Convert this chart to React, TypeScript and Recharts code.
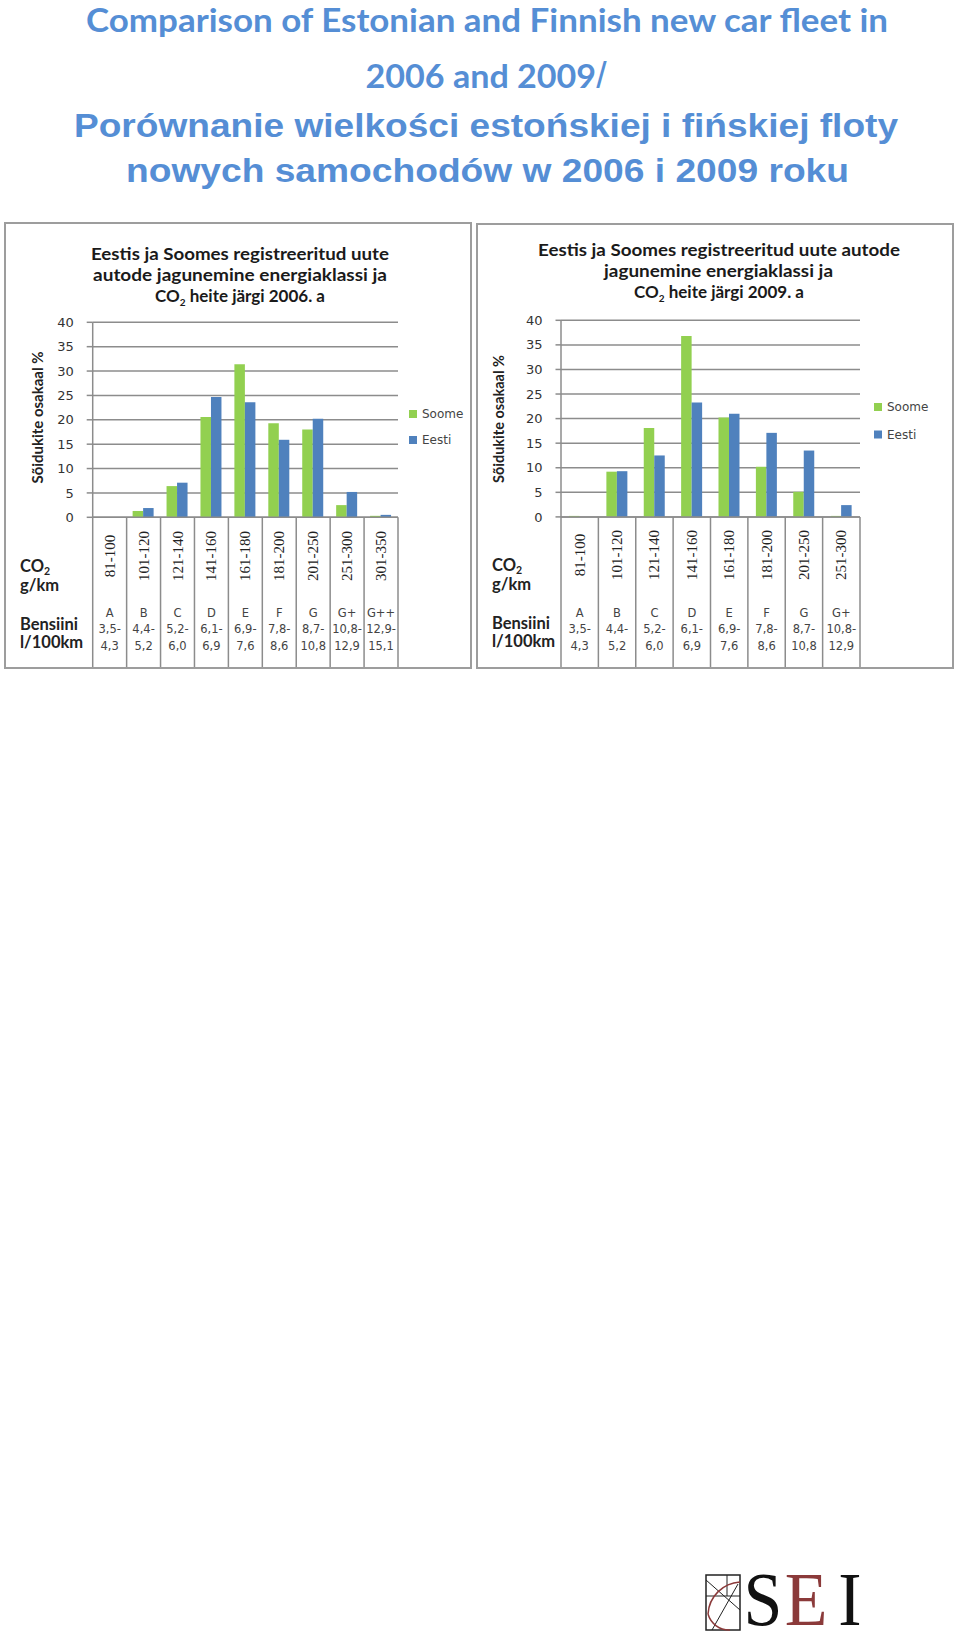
import React from 'react';
import { BarChart, Bar, XAxis, YAxis, CartesianGrid } from 'recharts';

// ---------- data ----------
const categories2006 = ['81-100', '101-120', '121-140', '141-160', '161-180', '181-200', '201-250', '251-300', '301-350'];
const classes2006 = ['A', 'B', 'C', 'D', 'E', 'F', 'G', 'G+', 'G++'];
const fuelFrom2006 = ['3,5-', '4,4-', '5,2-', '6,1-', '6,9-', '7,8-', '8,7-', '10,8-', '12,9-'];
const fuelTo2006 = ['4,3', '5,2', '6,0', '6,9', '7,6', '8,6', '10,8', '12,9', '15,1'];
const soome2006 = [0, 1.3, 6.4, 20.6, 31.4, 19.3, 18.0, 2.5, 0.3];
const eesti2006 = [0, 1.9, 7.1, 24.7, 23.6, 15.9, 20.2, 5.2, 0.5];

const categories2009 = ['81-100', '101-120', '121-140', '141-160', '161-180', '181-200', '201-250', '251-300'];
const classes2009 = ['A', 'B', 'C', 'D', 'E', 'F', 'G', 'G+'];
const fuelFrom2009 = ['3,5-', '4,4-', '5,2-', '6,1-', '6,9-', '7,8-', '8,7-', '10,8-'];
const fuelTo2009 = ['4,3', '5,2', '6,0', '6,9', '7,6', '8,6', '10,8', '12,9'];
const soome2009 = [0.2, 9.2, 18.1, 36.8, 20.2, 10.2, 5.1, 0.2];
const eesti2009 = [0, 9.3, 12.5, 23.3, 21.0, 17.1, 13.5, 2.4];

const yTicks = [0, 5, 10, 15, 20, 25, 30, 35, 40];
const seriesNames = ['Soome', 'Eesti'];

const data2006 = categories2006.map((cat, i) => ({ cat, soome: soome2006[i], eesti: eesti2006[i] }));
const data2009 = categories2009.map((cat, i) => ({ cat, soome: soome2009[i], eesti: eesti2009[i] }));

// ---------- style ----------
const GREEN = '#92D050';
const BLUE = '#4F81BD';
const GRID = '#8c8c8c';
const TITLE_BLUE = '#558ED5';

type PanelProps = {
  left: number; top: number; width: number; height: number;
  plot: { left: number; right: number; top: number; bottom: number };
  data: { cat: string; soome: number; eesti: number }[];
  classes: string[]; fuelFrom: string[]; fuelTo: string[];
  labelDy: number; tickSize: number;
};

function Panel(p: PanelProps) {
  const yAxisW = 60;
  const margin = { top: p.plot.top, left: p.plot.left - yAxisW, right: p.width - p.plot.right, bottom: 0 };
  const xAxisH = p.height - p.plot.bottom;
  const n = p.data.length;
  const half = (p.plot.right - p.plot.left) / n / 2;
  const depth = xAxisH - 2;

  const renderTick = (props: any) => {
    const { x, y, payload } = props;
    const i = payload && payload.index != null ? payload.index : props.index;
    const xl = x - half;
    const small = { fontFamily: 'DejaVu Sans', fontSize: 11.5, fill: '#444', textAnchor: 'middle' as const };
    return (
      <g>
        <line x1={xl} y1={y} x2={xl} y2={y + depth} stroke={GRID} strokeWidth={1.5} />
        {i === n - 1 && <line x1={x + half} y1={y} x2={x + half} y2={y + depth} stroke={GRID} strokeWidth={1.5} />}
        <text
          transform={`translate(${x},${y + p.labelDy}) rotate(-90)`}
          textAnchor="middle"
          dominantBaseline="central"
          fontFamily="Liberation Serif"
          fontSize={15}
          fill="#222"
        >
          {payload.value}
        </text>
        <text x={x} y={y + 100} {...small}>{p.classes[i]}</text>
        <text x={x} y={y + 116} {...small}>{p.fuelFrom[i]}</text>
        <text x={x} y={y + 133} {...small}>{p.fuelTo[i]}</text>
      </g>
    );
  };

  return (
    <div style={{ position: 'absolute', left: p.left, top: p.top, width: p.width, height: p.height }}>
      <BarChart width={p.width} height={p.height} data={p.data} margin={margin} barGap={0} barSize={10.5}>
        <CartesianGrid vertical={false} stroke={GRID} strokeWidth={1.5} />
        <XAxis
          dataKey="cat"
          height={xAxisH}
          interval={0}
          tickSize={0}
          tickMargin={0}
          tickLine={false}
          axisLine={{ stroke: GRID, strokeWidth: 1.5 }}
          tick={renderTick}
        />
        <YAxis
          width={yAxisW}
          domain={[0, 40]}
          ticks={yTicks}
          interval={0}
          tickSize={p.tickSize}
          tickMargin={13}
          axisLine={{ stroke: GRID, strokeWidth: 1.5 }}
          tickLine={{ stroke: GRID, strokeWidth: 1.5 }}
          tick={{ fontFamily: 'DejaVu Sans', fontSize: 13, fill: '#333' }}
        />
        <Bar dataKey="soome" name={seriesNames[0]} fill={GREEN} isAnimationActive={false} />
        <Bar dataKey="eesti" name={seriesNames[1]} fill={BLUE} isAnimationActive={false} />
      </BarChart>
      <div
        style={{
          position: 'absolute', left: 0, top: 0, width: p.width, height: p.height,
          border: '2px solid #9d9d9d', boxSizing: 'border-box', pointerEvents: 'none',
        }}
      />
    </div>
  );
}

function Co2Title({ x, y, year }: { x: number; y: number; year: string }) {
  return (
    <text x={x} y={y} textAnchor="middle" fontFamily="Lato" fontWeight="bold" fontSize={17} fill="#1a1a1a">
      CO<tspan fontSize={10} dy={4}>2</tspan>
      <tspan dy={-4}>{` heite järgi ${year}. a`}</tspan>
    </text>
  );
}

function SideLabels({ x, yCo2 }: { x: number; yCo2: number }) {
  const st = { fontFamily: 'Lato', fontWeight: 'bold' as const, fontSize: 16.5, fill: '#222' };
  return (
    <g>
      <text x={x} y={yCo2} {...st}>
        CO<tspan fontSize={10.5} dy={3}>2</tspan>
      </text>
      <text x={x} y={yCo2 + 19} {...st}>g/km</text>
      <text x={x} y={yCo2 + 58} {...st}>Bensiini</text>
      <text x={x} y={yCo2 + 76} {...st}>l/100km</text>
    </g>
  );
}

function Legend({ x, y1, y2 }: { x: number; y1: number; y2: number }) {
  const st = { fontFamily: 'DejaVu Sans', fontSize: 12, fill: '#444', dominantBaseline: 'central' as const };
  return (
    <g>
      <rect x={x} y={y1 - 4} width={8} height={8} fill={GREEN} />
      <text x={x + 13} y={y1} {...st}>{seriesNames[0]}</text>
      <rect x={x} y={y2 - 4} width={8} height={8} fill={BLUE} />
      <text x={x + 13} y={y2} {...st}>{seriesNames[1]}</text>
    </g>
  );
}

function YLabel({ x, y, len }: { x: number; y: number; len: number }) {
  return (
    <text
      transform={`translate(${x},${y}) rotate(-90)`}
      textAnchor="middle"
      dominantBaseline="central"
      fontFamily="Lato"
      fontWeight="bold"
      fontSize={15}
      fill="#222"
      textLength={len}
      lengthAdjust="spacingAndGlyphs"
    >
      Sõidukite osakaal %
    </text>
  );
}

export default function App() {
  const chartTitle = { textAnchor: 'middle' as const, fontFamily: 'Lato', fontWeight: 'bold' as const, fontSize: 17, fill: '#1a1a1a', lengthAdjust: 'spacingAndGlyphs' as const };
  return (
    <div style={{ position: 'absolute', left: 0, top: 0, width: 960, height: 1643, background: '#fff', overflow: 'hidden' }}>
      <Panel
        left={4} top={222} width={468} height={447}
        plot={{ left: 88.7, right: 394, top: 100.3, bottom: 295.3 }}
        data={data2006} classes={classes2006} fuelFrom={fuelFrom2006} fuelTo={fuelTo2006}
        labelDy={38.7} tickSize={6}
      />
      <Panel
        left={476} top={223} width={478} height={446}
        plot={{ left: 85, right: 384, top: 97.3, bottom: 293.9 }}
        data={data2009} classes={classes2009} fuelFrom={fuelFrom2009} fuelTo={fuelTo2009}
        labelDy={38} tickSize={5.5}
      />
      <svg width={960} height={1643} style={{ position: 'absolute', left: 0, top: 0, pointerEvents: 'none' }}>
        {/* main title */}
        <text x={487} y={32} textAnchor="middle" fontFamily="Lato" fontWeight="bold" fontSize={33} fill={TITLE_BLUE} textLength={802} lengthAdjust="spacingAndGlyphs">
          Comparison of Estonian and Finnish new car fleet in
        </text>
        <text x={486} y={88} textAnchor="middle" fontFamily="Lato" fontWeight="bold" fontSize={33} fill={TITLE_BLUE} textLength={241} lengthAdjust="spacingAndGlyphs">
          2006 and 2009<tspan fontFamily="Liberation Sans" fontWeight="normal" fontSize={36}>/</tspan>
        </text>
        <text x={486} y={136.5} textAnchor="middle" fontFamily="Liberation Sans" fontWeight="bold" fontSize={33} fill={TITLE_BLUE} textLength={824} lengthAdjust="spacingAndGlyphs">
          Porównanie wielkości estońskiej i fińskiej floty
        </text>
        <text x={487.5} y={181.5} textAnchor="middle" fontFamily="Liberation Sans" fontWeight="bold" fontSize={33} fill={TITLE_BLUE} textLength={723} lengthAdjust="spacingAndGlyphs">
          nowych samochodów w 2006 i 2009 roku
        </text>

        {/* left chart title */}
        <text x={240} y={260} {...chartTitle} textLength={298}>Eestis ja Soomes registreeritud uute</text>
        <text x={240} y={281} {...chartTitle} textLength={294}>autode jagunemine energiaklassi ja</text>
        <Co2Title x={240} y={302} year="2006" />

        {/* right chart title */}
        <text x={719} y={256} {...chartTitle} textLength={362}>Eestis ja Soomes registreeritud uute autode</text>
        <text x={718.5} y={276.5} {...chartTitle} textLength={229}>jagunemine energiaklassi ja</text>
        <Co2Title x={719} y={298} year="2009" />

        <YLabel x={36.7} y={417.5} len={132} />
        <YLabel x={497.7} y={419} len={128} />

        <Legend x={409} y1={414} y2={440} />
        <Legend x={874} y1={407} y2={434.5} />

        <SideLabels x={20} yCo2={572} />
        <SideLabels x={492} yCo2={571} />

        {/* SEI logo */}
        <g>
          <rect x={706} y={1575} width={34} height={55} fill="none" stroke="#222" strokeWidth={1.5} />
          <line x1={706} y1={1596} x2={740} y2={1596} stroke="#222" strokeWidth={1} />
          <line x1={727} y1={1575} x2={727} y2={1596} stroke="#222" strokeWidth={1} />
          <line x1={706} y1={1580} x2={740} y2={1610} stroke="#222" strokeWidth={1} />
          <line x1={712} y1={1630} x2={738} y2={1584} stroke="#222" strokeWidth={1} />
          <path d="M740,1582 A34,34 0 0 0 708,1614" fill="none" stroke="#8B3A3A" strokeWidth={1.5} />
          <path d="M708,1614 A22,22 0 0 0 730,1630" fill="none" stroke="#8B3A3A" strokeWidth={1.5} />
          <g transform="translate(763,1625) scale(0.92,1)">
            <text x={0} y={0} textAnchor="middle" fontFamily="Liberation Serif" fontSize={76} fill="#111">S</text>
          </g>
          <g transform="translate(806,1625) scale(0.92,1)">
            <text x={0} y={0} textAnchor="middle" fontFamily="Liberation Serif" fontSize={76} fill="#8B3A3A">E</text>
          </g>
          <g transform="translate(850,1625) scale(0.92,1)">
            <text x={0} y={0} textAnchor="middle" fontFamily="Liberation Serif" fontSize={76} fill="#111">I</text>
          </g>
        </g>
      </svg>
    </div>
  );
}
